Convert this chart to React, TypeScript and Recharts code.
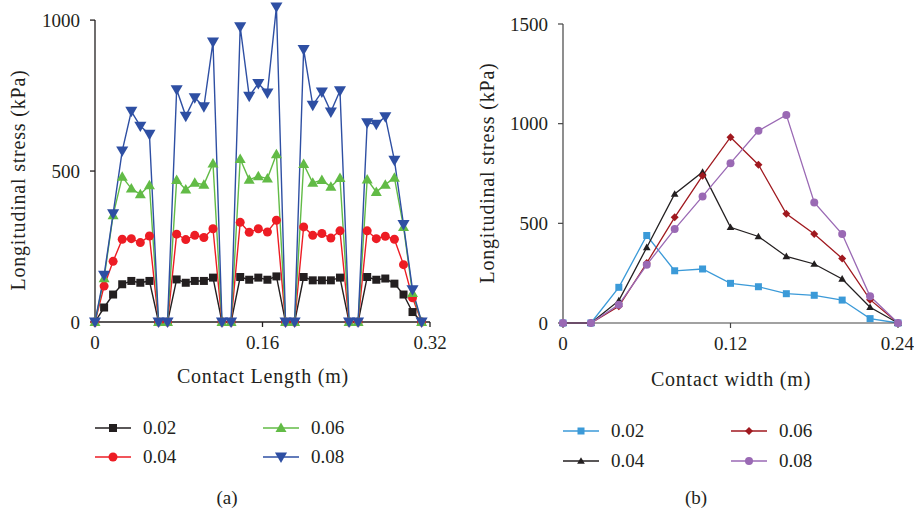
import React from "react"
import { LineChart, Line, XAxis, YAxis, ReferenceLine } from "recharts"

// (a) contact length positions (m) and stresses (kPa)
const lengthX = [
  0, 0.0087, 0.0173, 0.026, 0.0347, 0.0433, 0.052, 0.0607, 0.0693, 0.078,
  0.0867, 0.0953, 0.104, 0.1127, 0.1213, 0.13, 0.1387, 0.1473, 0.156, 0.1647,
  0.1733, 0.182, 0.1907, 0.1993, 0.208, 0.2167, 0.2253, 0.234, 0.2427, 0.2513,
  0.26, 0.2687, 0.2773, 0.286, 0.2947, 0.3033, 0.312,
]
const lenS002 = [0, 48, 91, 125, 136, 130, 136, 0, 0, 141, 130, 136, 136, 147, 0, 0, 149, 140, 147, 140, 151, 0, 0, 149, 138, 138, 138, 147, 0, 0, 149, 140, 144, 127, 91, 33, 0]
const lenS004 = [0, 119, 201, 274, 276, 263, 285, 0, 0, 291, 273, 287, 280, 309, 0, 0, 330, 297, 309, 298, 337, 0, 0, 315, 287, 293, 278, 302, 0, 0, 302, 276, 284, 274, 190, 80, 0]
const lenS006 = [0, 145, 354, 481, 442, 423, 453, 0, 0, 470, 439, 461, 455, 525, 0, 0, 540, 471, 483, 475, 556, 0, 0, 523, 461, 470, 448, 477, 0, 0, 472, 431, 455, 478, 315, 96, 0]
const lenS008 = [0, 155, 359, 567, 698, 649, 622, 0, 0, 770, 682, 743, 713, 928, 0, 0, 978, 748, 790, 759, 1044, 0, 0, 903, 718, 762, 696, 766, 0, 0, 660, 655, 680, 536, 323, 107, 0]
const lengthTicks = [0, 0.16, 0.32]
const stressTicksA = [0, 500, 1000]

// (b) contact width positions (m) and stresses (kPa)
const widthX = [0, 0.02, 0.04, 0.06, 0.08, 0.1, 0.12, 0.14, 0.16, 0.18, 0.2, 0.22, 0.24]
const widS002 = [0, 0, 179, 439, 262, 271, 199, 182, 147, 139, 115, 22, 0]
const widS004 = [0, 0, 112, 379, 647, 757, 480, 434, 334, 296, 221, 79, 0]
const widS006 = [0, 0, 84, 301, 530, 739, 932, 794, 548, 446, 324, 117, 0]
const widS008 = [0, 0, 92, 292, 471, 635, 802, 964, 1044, 605, 446, 134, 0]
const widthTicks = [0, 0.12, 0.24]
const stressTicksB = [0, 500, 1000, 1500]

const FONT = "Liberation Serif"
const TEXT = "#231f20"

type Shape = "square" | "circle" | "up" | "down" | "diamond"

function Marker({ shape, cx, cy, color, size }: { shape: Shape; cx: number; cy: number; color: string; size: number }) {
  const h = size / 2
  if (shape === "square") return <rect x={cx - h} y={cy - h} width={size} height={size} fill={color} />
  if (shape === "circle") return <circle cx={cx} cy={cy} r={h} fill={color} />
  if (shape === "up")
    return <polygon points={`${cx},${cy - h * 1.1} ${cx + h * 1.1},${cy + h * 0.8} ${cx - h * 1.1},${cy + h * 0.8}`} fill={color} />
  if (shape === "down")
    return <polygon points={`${cx},${cy + h * 1.1} ${cx + h * 1.1},${cy - h * 0.8} ${cx - h * 1.1},${cy - h * 0.8}`} fill={color} />
  return <polygon points={`${cx},${cy - h} ${cx + h},${cy} ${cx},${cy + h} ${cx - h},${cy}`} fill={color} />
}

function dotFor(shape: Shape, color: string, size: number) {
  return (p: any) => <Marker key={p.key ?? `${p.cx}-${p.cy}`} shape={shape} cx={p.cx} cy={p.cy} color={color} size={size} />
}

interface SeriesDef {
  key: string
  label: string
  color: string
  shape: Shape
  size: number
}

const seriesA: SeriesDef[] = [
  { key: "s002", label: "0.02", color: "#231f20", shape: "square", size: 8 },
  { key: "s004", label: "0.04", color: "#ed1c24", shape: "circle", size: 9 },
  { key: "s006", label: "0.06", color: "#62bb46", shape: "up", size: 10 },
  { key: "s008", label: "0.08", color: "#2e4fa3", shape: "down", size: 11 },
]
const seriesB: SeriesDef[] = [
  { key: "s002", label: "0.02", color: "#3b9ad8", shape: "square", size: 7 },
  { key: "s004", label: "0.04", color: "#231f20", shape: "up", size: 7 },
  { key: "s006", label: "0.06", color: "#a0191f", shape: "diamond", size: 8 },
  { key: "s008", label: "0.08", color: "#9a69b4", shape: "circle", size: 8 },
]

const dataA = lengthX.map((x, i) => ({ x, s002: lenS002[i], s004: lenS004[i], s006: lenS006[i], s008: lenS008[i] }))
const dataB = widthX.map((x, i) => ({ x, s002: widS002[i], s004: widS004[i], s006: widS006[i], s008: widS008[i] }))

const tickStyle = { fontSize: 19, fill: TEXT, fontFamily: FONT }

function Txt({ x, y, children, rotate, size = 19, spacing = 0 }: { x: number; y: number; children: React.ReactNode; rotate?: boolean; size?: number; spacing?: number }) {
  return (
    <div
      style={{
        position: "absolute",
        left: x,
        top: y,
        transform: `translate(-50%, -50%)${rotate ? " rotate(-90deg)" : ""}`,
        whiteSpace: "nowrap",
        fontFamily: FONT,
        fontSize: size,
        lineHeight: 1,
        letterSpacing: spacing,
        color: TEXT,
      }}
    >
      {children}
    </div>
  )
}

function LegendItem({ s, x, y }: { s: SeriesDef; x: number; y: number }) {
  return (
    <>
      <svg style={{ position: "absolute", left: x, top: y - 8 }} width={36} height={16}>
        <line x1={0} y1={8} x2={36} y2={8} stroke={s.color} strokeWidth={1.4} />
        <Marker shape={s.shape} cx={18} cy={8} color={s.color} size={s.size} />
      </svg>
      <div
        style={{
          position: "absolute",
          left: x + 48,
          top: y - 11,
          fontFamily: FONT,
          fontSize: 19,
          lineHeight: "22px",
          color: TEXT,
        }}
      >
        {s.label}
      </div>
    </>
  )
}

export default function App() {
  return (
    <div style={{ position: "absolute", left: 0, top: 0, width: 914, height: 510, background: "#fff", overflow: "hidden" }}>
      <div style={{ position: "absolute", left: 0, top: 0 }}>
        {/* domain runs to 1050 so the 1044 peak fits; the axis line itself stops at 1000 */}
        <LineChart width={460} height={362} data={dataA} margin={{ top: 5, right: 30, bottom: 0, left: 35 }}>
          <XAxis
            type="number"
            dataKey="x"
            domain={[0, 0.32]}
            ticks={lengthTicks}
            height={40}
            tickSize={5}
            tickMargin={9}
            tick={tickStyle}
            stroke="#231f20"
            strokeWidth={1.3}
          />
          <YAxis
            domain={[0, 1050]}
            ticks={stressTicksA}
            width={60}
            tickSize={5}
            tickMargin={10}
            tick={tickStyle}
            axisLine={false}
            stroke="#231f20"
            strokeWidth={1.3}
          />
          <ReferenceLine
            segment={[{ x: 0, y: 0 }, { x: 0, y: 1000 }]}
            stroke="#231f20"
            strokeWidth={1.3}
          />
          {seriesA.map((s) => (
            <Line
              key={s.key}
              type="linear"
              dataKey={s.key}
              stroke={s.color}
              strokeWidth={1.4}
              dot={dotFor(s.shape, s.color, s.size)}
              activeDot={false}
              isAnimationActive={false}
            />
          ))}
        </LineChart>
      </div>

      <div style={{ position: "absolute", left: 480, top: 0 }}>
        <LineChart width={434} height={363} data={dataB} margin={{ top: 24, right: 16, bottom: 0, left: 23 }}>
          <XAxis
            type="number"
            dataKey="x"
            domain={[0, 0.24]}
            ticks={widthTicks}
            height={40}
            tickSize={5}
            tickMargin={9}
            tick={tickStyle}
            stroke="#444"
            strokeWidth={1.2}
          />
          <YAxis
            domain={[0, 1500]}
            ticks={stressTicksB}
            width={60}
            tickSize={5}
            tickMargin={10}
            tick={tickStyle}
            stroke="#444"
            strokeWidth={1.2}
          />
          {seriesB.map((s) => (
            <Line
              key={s.key}
              type="linear"
              dataKey={s.key}
              stroke={s.color}
              strokeWidth={1.3}
              dot={dotFor(s.shape, s.color, s.size)}
              activeDot={false}
              isAnimationActive={false}
            />
          ))}
        </LineChart>
      </div>

      <Txt x={18} y={180} rotate size={20} spacing={0.8}>Longitudinal stress (kPa)</Txt>
      <Txt x={263} y={376} size={20} spacing={0.8}>Contact Length (m)</Txt>
      <Txt x={487} y={173} rotate size={20} spacing={0.8}>Longitudinal stress (kPa)</Txt>
      <Txt x={731} y={379} size={20} spacing={0.8}>Contact width (m)</Txt>

      <LegendItem s={seriesA[0]} x={95} y={428} />
      <LegendItem s={seriesA[1]} x={95} y={457} />
      <LegendItem s={seriesA[2]} x={263} y={428} />
      <LegendItem s={seriesA[3]} x={263} y={457} />

      <LegendItem s={seriesB[0]} x={563} y={431} />
      <LegendItem s={seriesB[1]} x={563} y={461} />
      <LegendItem s={seriesB[2]} x={731} y={431} />
      <LegendItem s={seriesB[3]} x={731} y={461} />

      <Txt x={227} y={497}>(a)</Txt>
      <Txt x={696} y={497}>(b)</Txt>
    </div>
  )
}
